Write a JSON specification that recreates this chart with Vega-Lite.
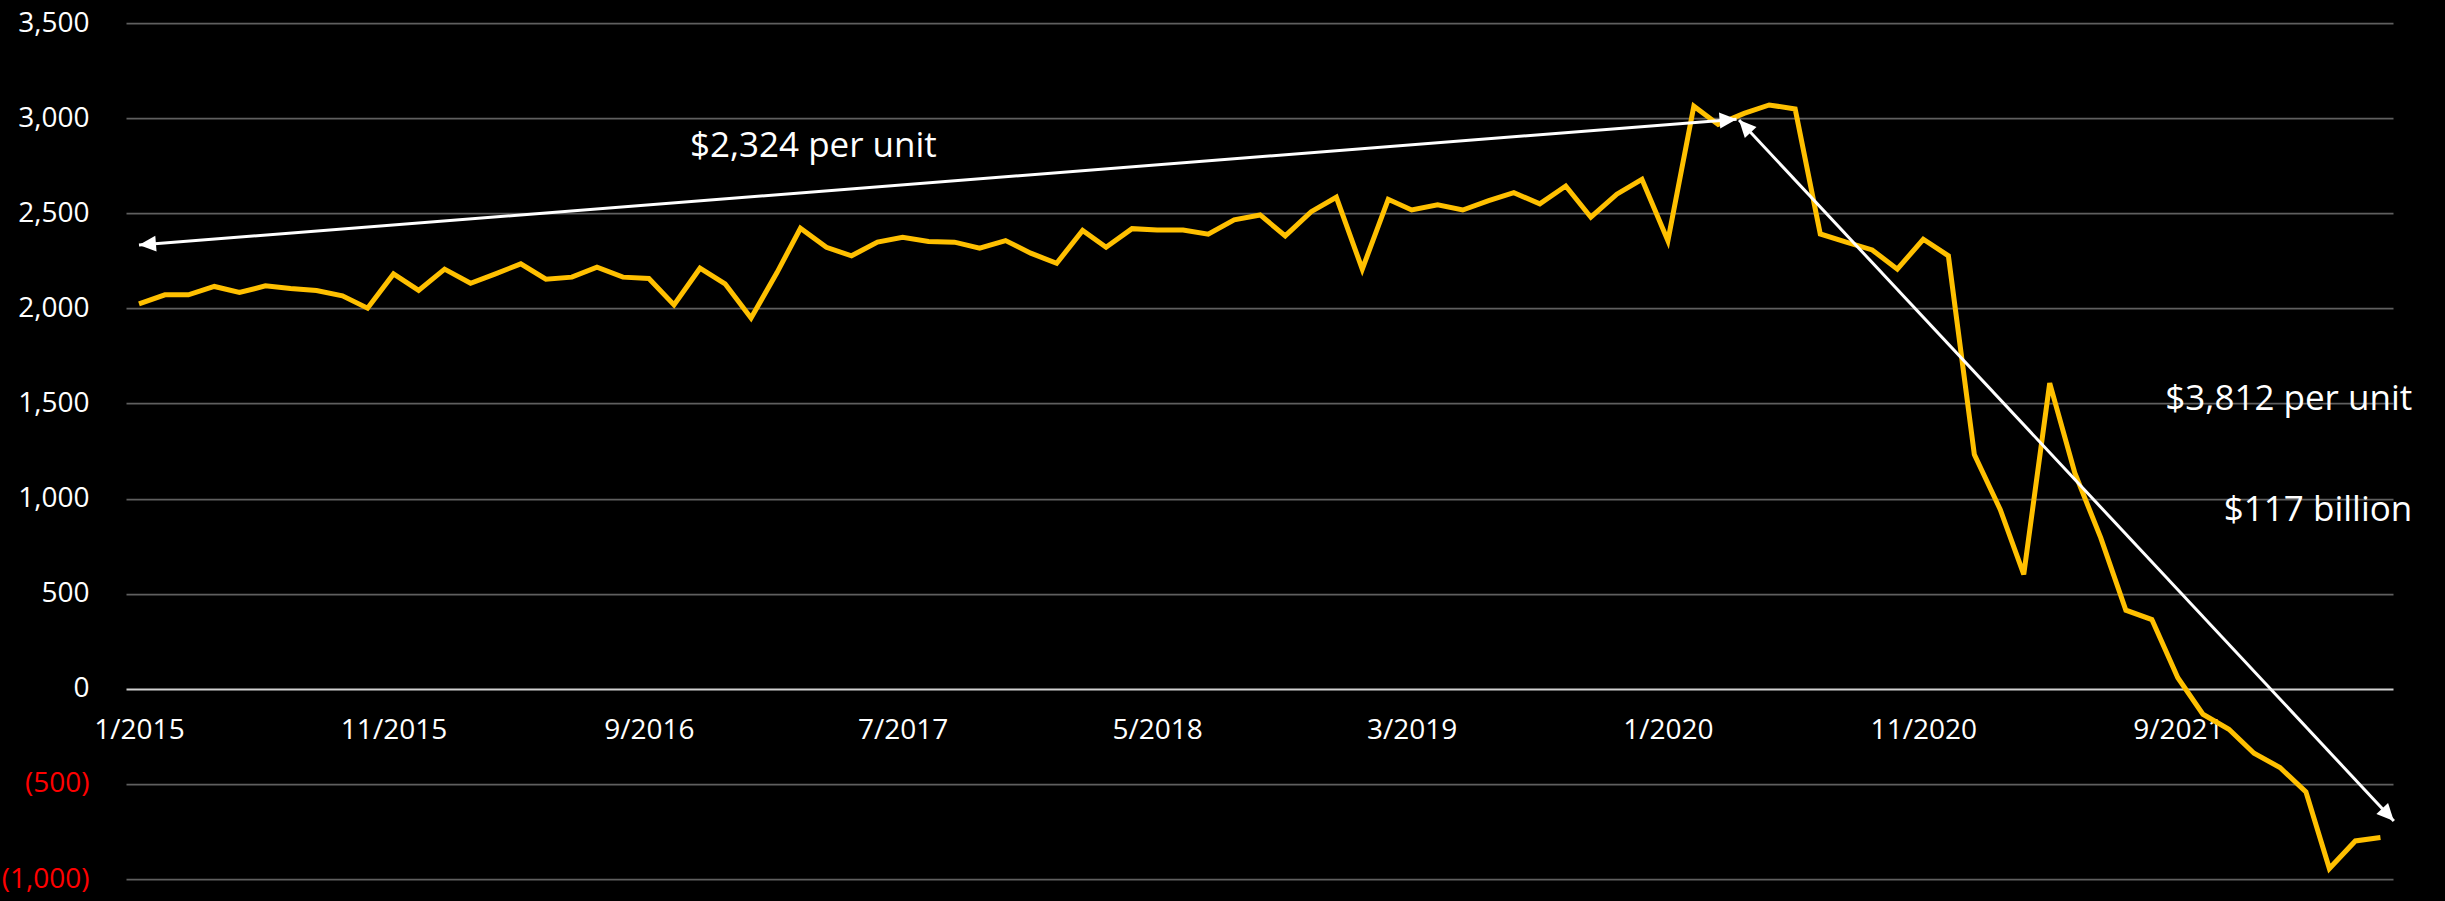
{
  "$schema": "https://vega.github.io/schema/vega-lite/v6.json",
  "width": 2267,
  "height": 856,
  "autosize": {"type": "none"},
  "padding": {"left": 126, "top": 23, "right": 52, "bottom": 22},
  "background": "#000000",
  "config": {"view": {"stroke": null}, "font": "Open Sans"},
  "datasets": {
    "series": [
      {"month": "2015-01-01", "value": 2024},
      {"month": "2015-02-01", "value": 2071},
      {"month": "2015-03-01", "value": 2071},
      {"month": "2015-04-01", "value": 2115},
      {"month": "2015-05-01", "value": 2083},
      {"month": "2015-06-01", "value": 2118},
      {"month": "2015-07-01", "value": 2104},
      {"month": "2015-08-01", "value": 2094},
      {"month": "2015-09-01", "value": 2066},
      {"month": "2015-10-01", "value": 2001},
      {"month": "2015-11-01", "value": 2181},
      {"month": "2015-12-01", "value": 2094},
      {"month": "2016-01-01", "value": 2206},
      {"month": "2016-02-01", "value": 2132},
      {"month": "2016-03-01", "value": 2180},
      {"month": "2016-04-01", "value": 2234},
      {"month": "2016-05-01", "value": 2153},
      {"month": "2016-06-01", "value": 2164},
      {"month": "2016-07-01", "value": 2216},
      {"month": "2016-08-01", "value": 2164},
      {"month": "2016-09-01", "value": 2157},
      {"month": "2016-10-01", "value": 2018},
      {"month": "2016-11-01", "value": 2211},
      {"month": "2016-12-01", "value": 2129},
      {"month": "2017-01-01", "value": 1949},
      {"month": "2017-02-01", "value": 2188},
      {"month": "2017-03-01", "value": 2421},
      {"month": "2017-04-01", "value": 2321},
      {"month": "2017-05-01", "value": 2276},
      {"month": "2017-06-01", "value": 2348},
      {"month": "2017-07-01", "value": 2374},
      {"month": "2017-08-01", "value": 2351},
      {"month": "2017-09-01", "value": 2348},
      {"month": "2017-10-01", "value": 2316},
      {"month": "2017-11-01", "value": 2356},
      {"month": "2017-12-01", "value": 2290},
      {"month": "2018-01-01", "value": 2237},
      {"month": "2018-02-01", "value": 2409},
      {"month": "2018-03-01", "value": 2321},
      {"month": "2018-04-01", "value": 2419},
      {"month": "2018-05-01", "value": 2412},
      {"month": "2018-06-01", "value": 2412},
      {"month": "2018-07-01", "value": 2390},
      {"month": "2018-08-01", "value": 2465},
      {"month": "2018-09-01", "value": 2491},
      {"month": "2018-10-01", "value": 2381},
      {"month": "2018-11-01", "value": 2508},
      {"month": "2018-12-01", "value": 2584},
      {"month": "2019-01-01", "value": 2206},
      {"month": "2019-02-01", "value": 2573},
      {"month": "2019-03-01", "value": 2517},
      {"month": "2019-04-01", "value": 2544},
      {"month": "2019-05-01", "value": 2517},
      {"month": "2019-06-01", "value": 2566},
      {"month": "2019-07-01", "value": 2608},
      {"month": "2019-08-01", "value": 2549},
      {"month": "2019-09-01", "value": 2643},
      {"month": "2019-10-01", "value": 2479},
      {"month": "2019-11-01", "value": 2600},
      {"month": "2019-12-01", "value": 2678},
      {"month": "2020-01-01", "value": 2356},
      {"month": "2020-02-01", "value": 3063},
      {"month": "2020-03-01", "value": 2967},
      {"month": "2020-04-01", "value": 3025},
      {"month": "2020-05-01", "value": 3069},
      {"month": "2020-06-01", "value": 3048},
      {"month": "2020-07-01", "value": 2391},
      {"month": "2020-08-01", "value": 2348},
      {"month": "2020-09-01", "value": 2307},
      {"month": "2020-10-01", "value": 2206},
      {"month": "2020-11-01", "value": 2363},
      {"month": "2020-12-01", "value": 2276},
      {"month": "2021-01-01", "value": 1231},
      {"month": "2021-02-01", "value": 942},
      {"month": "2021-03-01", "value": 601},
      {"month": "2021-04-01", "value": 1607},
      {"month": "2021-05-01", "value": 1135},
      {"month": "2021-06-01", "value": 793},
      {"month": "2021-07-01", "value": 413},
      {"month": "2021-08-01", "value": 364},
      {"month": "2021-09-01", "value": 58},
      {"month": "2021-10-01", "value": -134},
      {"month": "2021-11-01", "value": -213},
      {"month": "2021-12-01", "value": -339},
      {"month": "2022-01-01", "value": -414},
      {"month": "2022-02-01", "value": -542},
      {"month": "2022-03-01", "value": -945},
      {"month": "2022-04-01", "value": -800},
      {"month": "2022-05-01", "value": -782}
    ],
    "arrows": [
      {"id": "a", "x1": "2015-01-01", "y1": 2333, "x2": "2020-03-23", "y2": 2994},
      {"id": "b", "x1": "2020-03-26", "y1": 2990, "x2": "2022-05-17", "y2": -695}
    ],
    "notes": [
      {"id": "left", "x": "2016-10-20", "y": 2797, "label": "$2,324 per unit"},
      {"id": "right", "x": "2022-06-08", "y": 1467, "label": "$3,812 per unit"},
      {"id": "right", "x": "2022-06-08", "y": 881, "label": "$117 billion"}
    ]
  },
  "layer": [
    {
      "data": {"name": "series"},
      "mark": {"type": "line", "color": "#FFC000", "strokeWidth": 5},
      "encoding": {
        "x": {
          "field": "month",
          "type": "temporal",
          "title": null,
          "scale": {
            "type": "utc",
            "domain": [
              {"year": 2014, "month": 12, "date": 16, "hours": 12, "utc": true},
              {"year": 2022, "month": 5, "date": 16, "utc": true}
            ]
          },
          "axis": {
            "orient": "bottom",
            "offset": -190.2,
            "domain": false,
            "ticks": false,
            "grid": false,
            "labelPadding": 28,
            "labelFont": "Open Sans",
            "labelFontSize": 28,
            "labelColor": "#FFFFFF",
            "labelFlush": false,
            "labelOverlap": false,
            "labelExpr": "utcFormat(datum.value, '%-m/%Y')",
            "values": [
              {"year": 2015, "month": 1, "date": 1, "utc": true},
              {"year": 2015, "month": 11, "date": 1, "utc": true},
              {"year": 2016, "month": 9, "date": 1, "utc": true},
              {"year": 2017, "month": 7, "date": 1, "utc": true},
              {"year": 2018, "month": 5, "date": 1, "utc": true},
              {"year": 2019, "month": 3, "date": 1, "utc": true},
              {"year": 2020, "month": 1, "date": 1, "utc": true},
              {"year": 2020, "month": 11, "date": 1, "utc": true},
              {"year": 2021, "month": 9, "date": 1, "utc": true}
            ]
          }
        },
        "y": {
          "field": "value",
          "type": "quantitative",
          "title": null,
          "scale": {"domain": [-1000, 3500], "nice": false, "zero": false},
          "axis": {
            "values": [-1000, -500, 0, 500, 1000, 1500, 2000, 2500, 3000, 3500],
            "domain": false,
            "ticks": false,
            "labelPadding": 37,
            "labelFont": "Open Sans",
            "labelFontSize": 28,
            "labelExpr": "datum.value < 0 ? '(' + format(-datum.value, ',') + ')' : format(datum.value, ',')",
            "labelColor": {"condition": {"test": "datum.value < 0", "value": "#FF0000"}, "value": "#FFFFFF"},
            "grid": true,
            "gridColor": {"condition": {"test": "datum.value === 0", "value": "#D0D0D0"}, "value": "#5F5F5F"},
            "gridWidth": {"condition": {"test": "datum.value === 0", "value": 2}, "value": 1.75}
          }
        }
      }
    },
    {
      "data": {"name": "arrows"},
      "mark": {"type": "rule", "color": "#FFFFFF", "strokeWidth": 3},
      "encoding": {
        "x": {"field": "x1", "type": "temporal", "title": null},
        "y": {"field": "y1", "type": "quantitative", "title": null},
        "x2": {"field": "x2"},
        "y2": {"field": "y2"}
      }
    },
    {
      "data": {"name": "arrows"},
      "transform": [{"filter": "datum.id === 'a'"}],
      "mark": {"type": "point", "shape": "M0,0L-0.47,1L0.47,1Z", "size": 1156, "filled": true, "color": "#FFFFFF", "opacity": 1, "angle": 265.5},
      "encoding": {
        "x": {"field": "x1", "type": "temporal", "title": null},
        "y": {"field": "y1", "type": "quantitative", "title": null}
      }
    },
    {
      "data": {"name": "arrows"},
      "transform": [{"filter": "datum.id === 'a'"}],
      "mark": {"type": "point", "shape": "M0,0L-0.47,1L0.47,1Z", "size": 1156, "filled": true, "color": "#FFFFFF", "opacity": 1, "angle": 85.5},
      "encoding": {
        "x": {"field": "x2", "type": "temporal", "title": null},
        "y": {"field": "y2", "type": "quantitative", "title": null}
      }
    },
    {
      "data": {"name": "arrows"},
      "transform": [{"filter": "datum.id === 'b'"}],
      "mark": {"type": "point", "shape": "M0,0L-0.47,1L0.47,1Z", "size": 1156, "filled": true, "color": "#FFFFFF", "opacity": 1, "angle": 317},
      "encoding": {
        "x": {"field": "x1", "type": "temporal", "title": null},
        "y": {"field": "y1", "type": "quantitative", "title": null}
      }
    },
    {
      "data": {"name": "arrows"},
      "transform": [{"filter": "datum.id === 'b'"}],
      "mark": {"type": "point", "shape": "M0,0L-0.47,1L0.47,1Z", "size": 1156, "filled": true, "color": "#FFFFFF", "opacity": 1, "angle": 137},
      "encoding": {
        "x": {"field": "x2", "type": "temporal", "title": null},
        "y": {"field": "y2", "type": "quantitative", "title": null}
      }
    },
    {
      "data": {"name": "notes"},
      "transform": [{"filter": "datum.id === 'left'"}],
      "mark": {"type": "text", "align": "left", "baseline": "alphabetic", "font": "Open Sans", "fontSize": 35, "color": "#FFFFFF"},
      "encoding": {
        "x": {"field": "x", "type": "temporal", "title": null},
        "y": {"field": "y", "type": "quantitative", "title": null},
        "text": {"field": "label"}
      }
    },
    {
      "data": {"name": "notes"},
      "transform": [{"filter": "datum.id === 'right'"}],
      "mark": {"type": "text", "align": "right", "baseline": "alphabetic", "font": "Open Sans", "fontSize": 35, "color": "#FFFFFF"},
      "encoding": {
        "x": {"field": "x", "type": "temporal", "title": null},
        "y": {"field": "y", "type": "quantitative", "title": null},
        "text": {"field": "label"}
      }
    }
  ]
}
